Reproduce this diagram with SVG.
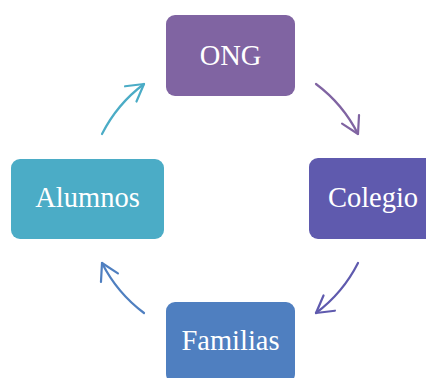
<svg xmlns="http://www.w3.org/2000/svg" width="426" height="378" viewBox="0 0 426 378">
  <style>
    .box { stroke: none; }
    .lbl { font-family: "Liberation Serif", "Times New Roman", serif; font-size: 28.5px; fill: #ffffff; text-anchor: middle; }
    .arc { fill: none; stroke-width: 2.2; stroke-linecap: round; }
  </style>
  <defs>
    <marker id="mCyan" markerUnits="userSpaceOnUse" viewBox="-20 -12 24 24" refX="0" refY="0" markerWidth="24" markerHeight="24" orient="auto" overflow="visible">
      <path d="M-16.5,-9.5 L0,0 L-16.5,9.5" fill="none" stroke="#4BACC6" stroke-width="2.2" stroke-linecap="round" stroke-linejoin="round"/>
    </marker>
    <marker id="mPurple" markerUnits="userSpaceOnUse" viewBox="-20 -12 24 24" refX="0" refY="0" markerWidth="24" markerHeight="24" orient="auto" overflow="visible">
      <path d="M-16.5,-9.5 L0,0 L-16.5,9.5" fill="none" stroke="#8064A2" stroke-width="2.2" stroke-linecap="round" stroke-linejoin="round"/>
    </marker>
    <marker id="mIndigo" markerUnits="userSpaceOnUse" viewBox="-20 -12 24 24" refX="0" refY="0" markerWidth="24" markerHeight="24" orient="auto" overflow="visible">
      <path d="M-16.5,-9.5 L0,0 L-16.5,9.5" fill="none" stroke="#5F5AAE" stroke-width="2.2" stroke-linecap="round" stroke-linejoin="round"/>
    </marker>
    <marker id="mBlue" markerUnits="userSpaceOnUse" viewBox="-20 -12 24 24" refX="0" refY="0" markerWidth="24" markerHeight="24" orient="auto" overflow="visible">
      <path d="M-16.5,-9.5 L0,0 L-16.5,9.5" fill="none" stroke="#4F7FC0" stroke-width="2.2" stroke-linecap="round" stroke-linejoin="round"/>
    </marker>
  </defs>
  <rect width="426" height="378" fill="#ffffff"/>
  <g id="connectors">
    <path class="arc" stroke="#4BACC6" marker-end="url(#mCyan)" d="M102,134 A143.2,143.2 0 0 1 144,84"/>
    <path class="arc" stroke="#8064A2" marker-end="url(#mPurple)" d="M316,84 A143.2,143.2 0 0 1 358,134"/>
    <path class="arc" stroke="#5F5AAE" marker-end="url(#mIndigo)" d="M358,263 A143.2,143.2 0 0 1 316,313"/>
    <path class="arc" stroke="#4F7FC0" marker-end="url(#mBlue)" d="M144,313 A143.2,143.2 0 0 1 102,263"/>
  </g>
  <g id="node-ong">
    <rect class="box" x="166" y="15" width="129" height="81" rx="9" fill="#8064A2"/>
    <text class="lbl" x="230.5" y="65">ONG</text>
  </g>
  <g id="node-colegio">
    <rect class="box" x="309" y="158" width="129" height="81" rx="9" fill="#5F5AAE"/>
    <text class="lbl" x="373" y="207">Colegio</text>
  </g>
  <g id="node-familias">
    <rect class="box" x="166" y="302" width="129" height="81" rx="9" fill="#4F7FC0"/>
    <text class="lbl" x="230.5" y="350">Familias</text>
  </g>
  <g id="node-alumnos">
    <rect class="box" x="11" y="159" width="153" height="80" rx="9" fill="#4BACC6"/>
    <text class="lbl" x="87.5" y="207">Alumnos</text>
  </g>
</svg>
